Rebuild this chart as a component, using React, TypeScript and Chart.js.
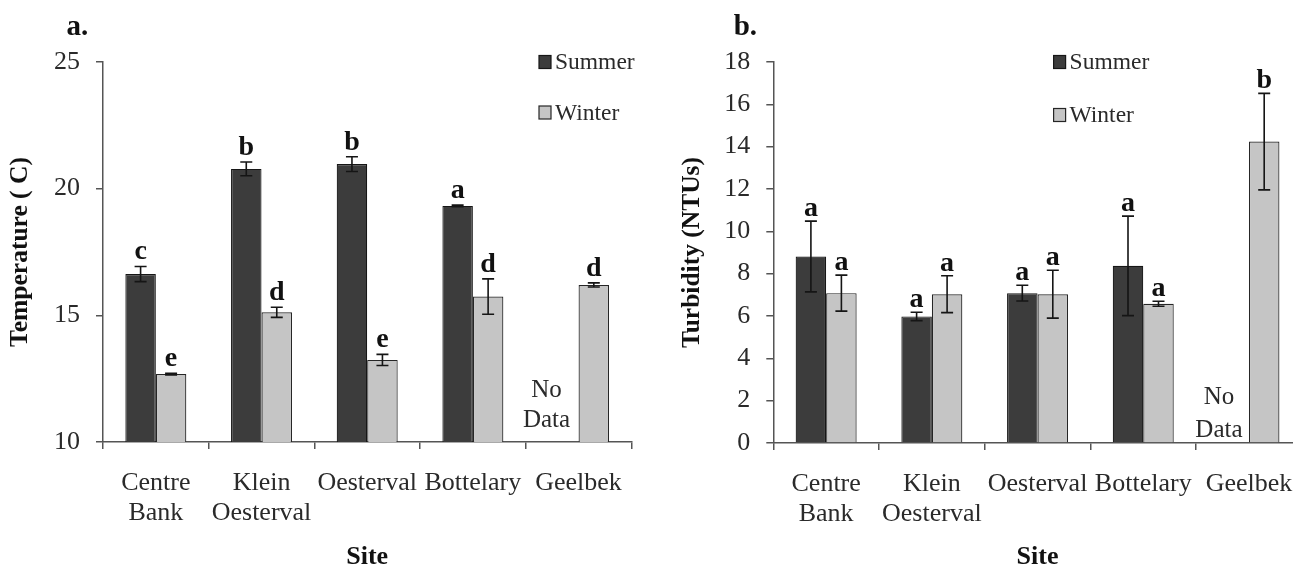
import React, { useEffect, useRef } from 'react';
import { Chart, registerables } from 'chart.js';

Chart.register(...registerables);

// ---------- data ----------
const sites: (string | string[])[] = [['Centre', 'Bank'], ['Klein', 'Oesterval'], 'Oesterval', 'Bottelary', 'Geelbek'];
const seriesNames = ['Summer', 'Winter'];

const tempSummer = [16.63, 20.78, 20.97, 19.32, null];
const tempSummerErr = [0.3, 0.27, 0.29, 0.03, null];
const tempWinter = [12.68, 15.12, 13.24, 15.74, 16.2];
const tempWinterErr = [0.03, 0.2, 0.22, 0.7, 0.08];
const tempSummerLetters = ['c', 'b', 'b', 'a', ''];
const tempWinterLetters = ['e', 'd', 'e', 'd', 'd'];
const tempTicks = { min: 10, max: 25, step: 5 };

const turbSummer = [8.81, 5.98, 7.08, 8.37, null];
const turbSummerErr = [1.67, 0.2, 0.37, 2.35, null];
const turbWinter = [7.08, 7.03, 7.03, 6.58, 14.24];
const turbWinterErr = [0.85, 0.87, 1.13, 0.12, 2.28];
const turbSummerLetters = ['a', 'a', 'a', 'a', ''];
const turbWinterLetters = ['a', 'a', 'a', 'a', 'b'];
const turbTicks = { min: 0, max: 18, step: 2 };

// ---------- style ----------
const FONT = "'Liberation Serif', 'Times New Roman', serif";
const SUMMER_FILL = '#3c3c3c';
const SUMMER_EDGE = '#161616';
const WINTER_FILL = '#c5c5c5';
const WINTER_EDGE = '#262626';
const AXIS = '#555555';
const TEXT = '#2a2a2a';
const DARK = '#111111';

const errorBarsPlugin = {
  id: 'errorBars',
  afterDatasetsDraw(chart: any, _args: any, opts: any) {
    const { ctx } = chart;
    const y = chart.scales.y;
    ctx.save();
    ctx.strokeStyle = '#151515';
    ctx.lineWidth = 1.6;
    opts.errors.forEach((errs: (number | null)[], d: number) => {
      const meta = chart.getDatasetMeta(d);
      const vals = chart.data.datasets[d].data;
      meta.data.forEach((el: any, i: number) => {
        const v = vals[i];
        const e = errs[i];
        if (v == null || e == null) return;
        const x = el.x;
        const top = y.getPixelForValue(v + e);
        const bot = y.getPixelForValue(v - e);
        const hw = opts.cap;
        ctx.beginPath();
        ctx.moveTo(x, top);
        ctx.lineTo(x, bot);
        ctx.moveTo(x - hw, top);
        ctx.lineTo(x + hw, top);
        ctx.moveTo(x - hw, bot);
        ctx.lineTo(x + hw, bot);
        ctx.stroke();
      });
    });
    ctx.restore();
  },
};

const lettersPlugin = {
  id: 'sigLetters',
  afterDatasetsDraw(chart: any, _args: any, opts: any) {
    const { ctx } = chart;
    const y = chart.scales.y;
    ctx.save();
    ctx.fillStyle = DARK;
    ctx.font = `bold 28px ${FONT}`;
    ctx.textAlign = 'center';
    ctx.textBaseline = 'alphabetic';
    opts.letters.forEach((letters: string[], d: number) => {
      const meta = chart.getDatasetMeta(d);
      const vals = chart.data.datasets[d].data;
      const errs = opts.errors[d];
      meta.data.forEach((el: any, i: number) => {
        const v = vals[i];
        if (v == null || !letters[i]) return;
        const top = y.getPixelForValue(v + (errs[i] || 0));
        ctx.fillText(letters[i], el.x, top - opts.gap);
      });
    });
    ctx.restore();
  },
};

const legendPlugin = {
  id: 'boxLegend',
  afterDraw(chart: any, _args: any, opts: any) {
    const { ctx } = chart;
    ctx.save();
    ctx.font = `23.5px ${FONT}`;
    ctx.textBaseline = 'middle';
    ctx.textAlign = 'left';
    chart.data.datasets.forEach((ds: any, d: number) => {
      const cy = opts.ys[d];
      ctx.fillStyle = ds.backgroundColor;
      ctx.fillRect(opts.x, cy - 6.5, 12, 13);
      ctx.strokeStyle = ds.borderColor;
      ctx.lineWidth = 1.2;
      ctx.strokeRect(opts.x, cy - 6.5, 12, 13);
      ctx.fillStyle = TEXT;
      ctx.fillText(ds.label, opts.x + 16, cy + 1);
    });
    ctx.restore();
  },
};

const notesPlugin = {
  id: 'notes',
  afterDraw(chart: any, _args: any, opts: any) {
    const { ctx } = chart;
    ctx.save();
    // panel label
    ctx.fillStyle = DARK;
    ctx.font = `bold 29px ${FONT}`;
    ctx.textAlign = 'left';
    ctx.textBaseline = 'middle';
    ctx.fillText(opts.panel, opts.panelX, 28);
    // No Data
    const meta = chart.getDatasetMeta(0);
    const el = meta.data[opts.noDataIndex];
    const x = chart.scales.x.getPixelForValue(opts.noDataIndex) - (el ? 0 : 0);
    const cx = x + opts.noDataDx;
    ctx.fillStyle = TEXT;
    ctx.font = `25px ${FONT}`;
    ctx.textAlign = 'center';
    ctx.fillText('No', cx, opts.noY[0]);
    ctx.fillText('Data', cx, opts.noY[1]);
    ctx.restore();
  },
};

function buildConfig(p: any) {
  return {
    type: 'bar',
    data: {
      labels: sites,
      datasets: [
        { label: seriesNames[0], data: p.summer, backgroundColor: SUMMER_FILL, borderColor: SUMMER_EDGE, borderWidth: 1.2 },
        { label: seriesNames[1], data: p.winter, backgroundColor: WINTER_FILL, borderColor: WINTER_EDGE, borderWidth: 1.2 },
      ],
    },
    options: {
      responsive: false,
      animation: false,
      devicePixelRatio: 1,
      layout: { padding: { top: 62, right: p.padRight, bottom: 0, left: 0 } },
      datasets: { bar: { categoryPercentage: 0.577, barPercentage: 1 } },
      scales: {
        x: {
          grid: { display: true, drawOnChartArea: false, drawTicks: true, tickLength: 7, color: AXIS, lineWidth: 1.5, offset: true },
          border: { display: true, color: AXIS, width: 1.5 },
          ticks: {
            autoSkip: false, maxRotation: 0, minRotation: 0, padding: 19, color: TEXT,
            font: { family: FONT, size: 26, lineHeight: 30 / 26 },
          },
          title: {
            display: true, text: 'Site', color: DARK,
            font: { family: FONT, size: 26, weight: 'bold', lineHeight: 1 },
            padding: { top: 0, bottom: -2 },
          },
          afterFit: (s: any) => { s.height = p.xHeight; },
        },
        y: {
          min: p.ticks.min,
          max: p.ticks.max,
          ticks: { stepSize: p.ticks.step, padding: 16, color: TEXT, font: { family: FONT, size: 26 } },
          grid: { display: true, drawOnChartArea: false, drawTicks: true, tickLength: 7, color: AXIS, lineWidth: 1.5 },
          border: { display: true, color: AXIS, width: 1.5 },
          title: {
            display: true, text: p.yTitle, color: DARK,
            font: { family: FONT, size: 25.5, weight: 'bold', lineHeight: 1 },
            padding: { top: p.yTitlePad, bottom: 0 },
          },
          afterFit: (s: any) => { s.width = p.yWidth; },
        },
      },
      plugins: {
        legend: { display: false },
        tooltip: { enabled: false },
        errorBars: { errors: p.errors, cap: 6 },
        sigLetters: { letters: p.letters, errors: p.errors, gap: p.gap },
        boxLegend: { x: p.legendX, ys: p.legendYs },
        notes: { panel: p.panel, panelX: p.panelX, noDataIndex: 4, noDataDx: p.noDataDx, noY: p.noY },
      },
    },
    plugins: [errorBarsPlugin, lettersPlugin, legendPlugin, notesPlugin],
  };
}

export default function App() {
  const leftRef = useRef<HTMLCanvasElement>(null);
  const rightRef = useRef<HTMLCanvasElement>(null);

  useEffect(() => {
    const left = new Chart(leftRef.current as HTMLCanvasElement, buildConfig({
      summer: tempSummer, winter: tempWinter,
      errors: [tempSummerErr, tempWinterErr],
      letters: [tempSummerLetters, tempWinterLetters],
      ticks: tempTicks,
      yTitle: 'Temperature ( C)', yTitlePad: 8, yWidth: 103,
      padRight: 28.6, xHeight: 126, gap: 7,
      legendX: 539, legendYs: [62, 112.5],
      panel: 'a.', panelX: 66.5,
      noDataDx: -32, noY: [390, 420],
    }) as any);
    const right = new Chart(rightRef.current as HTMLCanvasElement, buildConfig({
      summer: turbSummer, winter: turbWinter,
      errors: [turbSummerErr, turbWinterErr],
      letters: [turbSummerLetters, turbWinterLetters],
      ticks: turbTicks,
      yTitle: 'Turbidity (NTUs)', yTitlePad: 40, yWidth: 133.3,
      padRight: 28.2, xHeight: 125, gap: 5,
      legendX: 413.6, legendYs: [62, 115],
      panel: 'b.', panelX: 93.7,
      noDataDx: -30, noY: [397, 430],
    }) as any);
    return () => { left.destroy(); right.destroy(); };
  }, []);

  return (
    <div style={{ position: 'fixed', left: 0, top: 0, width: 1293, height: 568, overflow: 'hidden', background: '#ffffff' }}>
      <canvas ref={leftRef} width={660} height={568} style={{ position: 'absolute', left: 0, top: 0, width: 660, height: 568 }} />
      <canvas ref={rightRef} width={690} height={568} style={{ position: 'absolute', left: 640, top: 0, width: 690, height: 568 }} />
    </div>
  );
}
